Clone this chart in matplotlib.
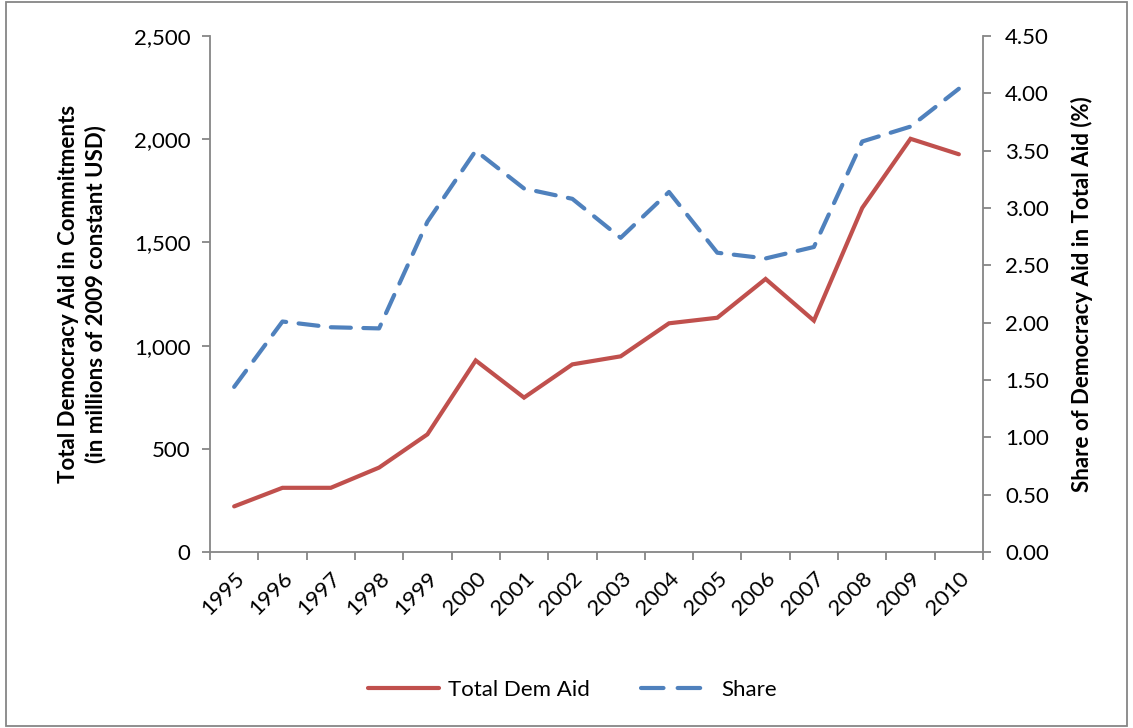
import numpy as np
import matplotlib
matplotlib.use("Agg")
import matplotlib.pyplot as plt
from matplotlib.ticker import FuncFormatter
from matplotlib.patches import Rectangle
from matplotlib.lines import Line2D

plt.rcParams['font.family'] = ['Lato', 'DejaVu Sans']

years = ['1995', '1996', '1997', '1998', '1999', '2000', '2001', '2002',
         '2003', '2004', '2005', '2006', '2007', '2008', '2009', '2010']
total_dem_aid = [221, 311, 311, 409, 570, 928, 748, 909,
                 948, 1108, 1135, 1323, 1121, 1667, 2002, 1927]
share = [1.44, 2.01, 1.96, 1.95, 2.88, 3.50, 3.17, 3.08,
         2.74, 3.14, 2.61, 2.56, 2.66, 3.58, 3.71, 4.04]

red = '#C0504D'
blue = '#4F81BD'
grey = '#868686'
fs = 16

fig = plt.figure(figsize=(11.33, 7.28), dpi=100)
ax = fig.add_axes([210/1133, 1-552/728, (983-210)/1133, (552-36)/728])
ax2 = ax.twinx()

x = np.arange(len(years))
l1, = ax.plot(x, total_dem_aid, color=red, lw=3.0, solid_capstyle='round',
              solid_joinstyle='miter', label='Total Dem Aid')
l2, = ax2.plot(x, share, color=blue, lw=3.0, dashes=(4.8, 3.0),
               dash_capstyle='round', label='Share')

ax.set_xlim(-0.5, len(years) - 0.5)
ax.set_ylim(0, 2500)
ax2.set_ylim(0, 4.5)
ax.set_yticks(np.arange(0, 2501, 500))
ax2.set_yticks(np.arange(0, 4.51, 0.5))
ax.yaxis.set_major_formatter(FuncFormatter(lambda v, p: f'{v:,.0f}'))
ax2.yaxis.set_major_formatter(FuncFormatter(lambda v, p: f'{v:.2f}'))

# category boundaries as ticks, labels at the centres
ax.set_xticks(np.arange(-0.5, len(years), 1.0))
ax.set_xticklabels([])
ax.set_xticks(x, minor=True)
ax.set_xticklabels(years, minor=True, rotation=45, ha='right', va='top',
                   rotation_mode='anchor', fontsize=fs)
ax.tick_params(axis='x', which='minor', length=0, pad=12)
ax.tick_params(axis='x', which='major', length=6, color=grey, width=1.3)

for a in (ax, ax2):
    for s in a.spines.values():
        s.set_visible(False)
ax.spines['left'].set_visible(True)
ax.spines['bottom'].set_visible(True)
ax2.spines['right'].set_visible(True)
for s in (ax.spines['left'], ax.spines['bottom'], ax2.spines['right']):
    s.set_color(grey)
    s.set_linewidth(1.3)

ax.tick_params(axis='y', length=6, color=grey, width=1.3, labelsize=fs, pad=8)
ax2.tick_params(axis='y', length=6, color=grey, width=1.3, labelsize=fs, pad=10)

ax.set_ylabel('Total Democracy Aid in Commitments\n(in millions of 2009 constant USD)',
              fontsize=fs, fontweight='bold', labelpad=20, linespacing=1.3)
ax2.set_ylabel('Share of Democracy Aid in Total Aid (%)',
               fontsize=fs, fontweight='bold', labelpad=16)

# legend handle for the dashed line: two long dashes like the original
share_handle = Line2D([], [], color=blue, lw=3.0, dashes=(5.4, 3.4),
                      dash_capstyle='round')
fig.legend([l1, share_handle], ['Total Dem Aid', 'Share'], loc='center',
           bbox_to_anchor=(0.505, 1-690/728), ncol=2, frameon=False,
           fontsize=fs, handlelength=3.2, columnspacing=2.3, handletextpad=0.4)

fig.patches.append(Rectangle((0.005, 0.003), 0.99, 0.994, transform=fig.transFigure,
                             fill=False, edgecolor=grey, lw=1.3))

fig.savefig('out.png', dpi=100)
